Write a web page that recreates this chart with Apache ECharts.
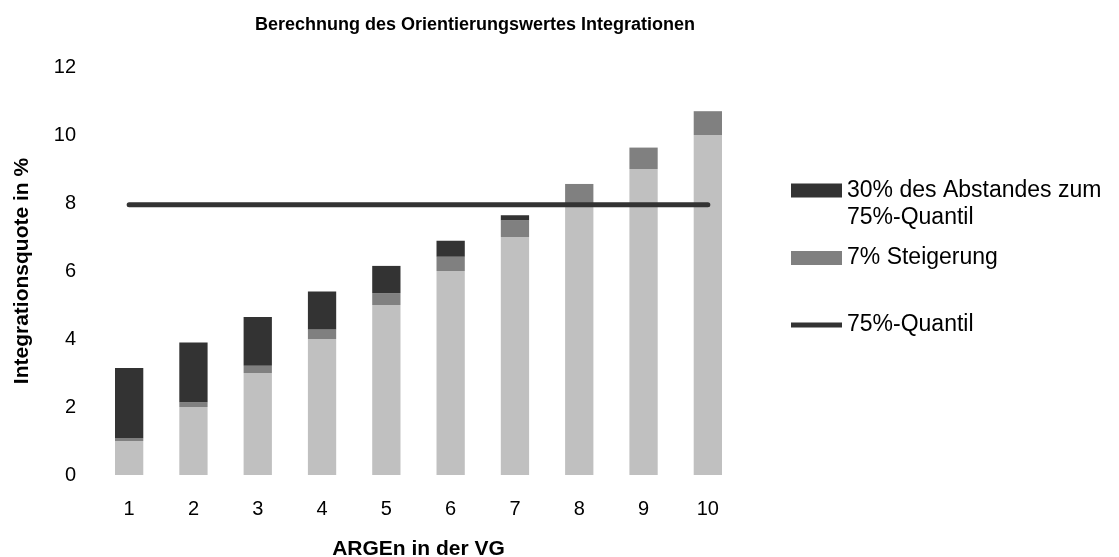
<!doctype html>
<html>
<head>
<meta charset="UTF-8">
<title>Orientierungswert Integrationen</title>
<script src="https://cdn.jsdelivr.net/npm/echarts@6/dist/echarts.min.js"></script>
<style>
  html, body { margin: 0; padding: 0; background: #fff; }
  #main { width: 1119px; height: 557px; }
</style>
</head>
<body>
<div id="main"></div>
<script>
// Daten
var kategorien = ['1', '2', '3', '4', '5', '6', '7', '8', '9', '10'];
var basis = [1, 2, 3, 4, 5, 6, 7, 8, 9, 10];
var steigerung = [0.07, 0.14, 0.21, 0.28, 0.35, 0.42, 0.49, 0.56, 0.63, 0.70];
var abstand = [2.08, 1.76, 1.44, 1.12, 0.80, 0.47, 0.15, 0, 0, 0];
var quantil = [7.95, 7.95, 7.95, 7.95, 7.95, 7.95, 7.95, 7.95, 7.95, 7.95];
var yTicks = [0, 2, 4, 6, 8, 10, 12];

var font = '"Liberation Sans", Arial, sans-serif';
var chart = echarts.init(document.getElementById('main'));

var legendText = { fontFamily: font, fontSize: 23, color: '#000' };

var option = {
    animation: false,
    title: {
        text: 'Berechnung des Orientierungswertes Integrationen',
        left: 470, textAlign: 'center', top: 11,
        textStyle: { fontFamily: font, fontSize: 18, fontWeight: 'bold', color: '#000' }
    },
    grid: { left: 97, right: 379, top: 67, bottom: 82, outerBoundsMode: 'none' },
    legend: [
        {
            // leere erste Zeile, damit das Symbol auf Höhe der ersten Textzeile sitzt
            data: [{ name: '30% des Abstandes zum\n75%-Quantil', icon: 'rect' }],
            formatter: function (n) { return ' \n' + n; },
            left: 791, top: 150, padding: 0,
            itemWidth: 51, itemHeight: 14, itemGap: 0,
            textStyle: Object.assign({ lineHeight: 27 }, legendText)
        },
        {
            data: [{ name: '7% Steigerung', icon: 'rect' }],
            left: 791, top: 245, padding: 0,
            itemWidth: 51, itemHeight: 14,
            textStyle: Object.assign({ lineHeight: 26 }, legendText)
        },
        {
            data: [{ name: '75%-Quantil', icon: 'rect' }],
            left: 791, top: 312, padding: 0,
            itemWidth: 51, itemHeight: 5,
            textStyle: Object.assign({ lineHeight: 26 }, legendText)
        }
    ],
    xAxis: {
        type: 'category',
        data: kategorien,
        name: 'ARGEn in der VG',
        nameLocation: 'middle',
        nameGap: 64,
        nameTextStyle: { fontFamily: font, fontSize: 21, fontWeight: 'bold', color: '#000' },
        axisLine: { show: false },
        axisTick: { show: false },
        axisLabel: { margin: 24, fontFamily: font, fontSize: 20, color: '#000' }
    },
    yAxis: {
        type: 'value',
        min: yTicks[0], max: yTicks[yTicks.length - 1], interval: 2,
        name: 'Integrationsquote in %',
        nameLocation: 'middle',
        nameGap: 64,
        nameTextStyle: { fontFamily: font, fontSize: 21, fontWeight: 'bold', color: '#000' },
        axisLine: { show: false },
        axisTick: { show: false },
        splitLine: { show: false },
        axisLabel: { margin: 21, fontFamily: font, fontSize: 20, color: '#000' }
    },
    series: [
        {
            name: 'Basis', type: 'bar', stack: 'a', barWidth: '44%',
            itemStyle: { color: '#c0c0c0' },
            data: basis
        },
        {
            name: '7% Steigerung', type: 'bar', stack: 'a',
            itemStyle: { color: '#808080' },
            data: steigerung
        },
        {
            name: '30% des Abstandes zum\n75%-Quantil', type: 'bar', stack: 'a',
            itemStyle: { color: '#333333' },
            data: abstand
        },
        {
            name: '75%-Quantil', type: 'line',
            symbol: 'none',
            lineStyle: { color: '#333333', width: 5, cap: 'round' },
            itemStyle: { color: '#333333' },
            data: quantil,
            z: 5
        }
    ]
};

chart.setOption(option);
</script>
</body>
</html>
